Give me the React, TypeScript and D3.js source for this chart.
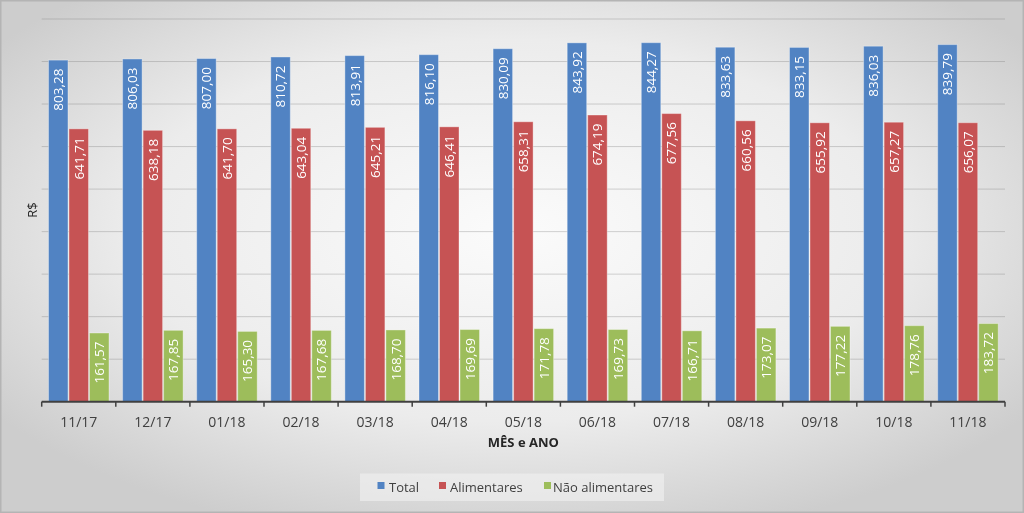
import React from "react";
import * as d3 from "d3";

// categorias (mês/ano)
const months = ["11/17", "12/17", "01/18", "02/18", "03/18", "04/18", "05/18", "06/18", "07/18", "08/18", "09/18", "10/18", "11/18"];

// séries
const seriesNames = ["Total", "Alimentares", "Não alimentares"];
const total = [803.28, 806.03, 807.0, 810.72, 813.91, 816.1, 830.09, 843.92, 844.27, 833.63, 833.15, 836.03, 839.79];
const alimentares = [641.71, 638.18, 641.7, 643.04, 645.21, 646.41, 658.31, 674.19, 677.56, 660.56, 655.92, 657.27, 656.07];
const naoAlimentares = [161.57, 167.85, 165.3, 167.68, 168.7, 169.69, 171.78, 169.73, 166.71, 173.07, 177.22, 178.76, 183.72];
const seriesValues = [total, alimentares, naoAlimentares];

const yTicks = [0, 100, 200, 300, 400, 500, 600, 700, 800, 900];

const colors = ["#5183c3", "#c65354", "#9dbd5b"];

const W = 1024;
const H = 513;
const FONT = "'Open Sans', 'Liberation Sans', sans-serif";

const fmt = (v: number) => v.toFixed(2).replace(".", ",");

export default function App() {
  const x0 = d3.scaleBand<string>().domain(months).range([41.7, 1005]).padding(0);
  const bw = x0.bandwidth();
  const x1 = d3
    .scaleBand<string>()
    .domain(seriesNames)
    .range([6.8, bw - 6.8])
    .paddingInner(0.05)
    .paddingOuter(0);
  const y = d3.scaleLinear().domain([0, 900]).range([401.7, 19]);

  const [xMin, xMax] = x0.range();
  const boundaries = [...months.map((m) => x0(m)!), xMax];

  const legendItems = [
    { name: seriesNames[0], sq: 377.5, tx: 389 },
    { name: seriesNames[1], sq: 439, tx: 450 },
    { name: seriesNames[2], sq: 544, tx: 553 },
  ];

  return (
    <div style={{ position: "fixed", left: 0, top: 0 }}>
      <svg width={W} height={H} style={{ display: "block" }} fontFamily={FONT}>
        <defs>
          <radialGradient id="bg" cx="50%" cy="45%" r="62%">
            <stop offset="0%" stopColor="#fbfbfb" />
            <stop offset="60%" stopColor="#ececec" />
            <stop offset="100%" stopColor="#cdcdcd" />
          </radialGradient>
        </defs>
        <rect x={0} y={0} width={W} height={H} fill="url(#bg)" />
        <rect x={0.5} y={0.5} width={W - 1} height={H - 1} fill="none" stroke="#b4b4b4" strokeWidth={2} />

        {/* linhas de grade */}
        {yTicks.slice(1).map((t) => (
          <line
            key={t}
            x1={xMin}
            x2={xMax}
            y1={y(t)}
            y2={y(t)}
            stroke="#6f6f6f"
            strokeOpacity={0.3}
            strokeWidth={1}
          />
        ))}

        {/* barras */}
        {months.map((m, i) => (
          <g key={m} transform={`translate(${x0(m)},0)`}>
            {seriesNames.map((s, k) => {
              const v = seriesValues[k][i];
              const bx = x1(s)!;
              const by = y(v);
              const cx = bx + x1.bandwidth() / 2;
              return (
                <g key={s}>
                  <rect
                    x={bx}
                    y={by}
                    width={x1.bandwidth()}
                    height={y(0) - by}
                    fill={colors[k]}
                    stroke="#ffffff"
                    strokeOpacity={0.35}
                    strokeWidth={1}
                  />
                  <text
                    transform={`translate(${cx},${by + 8.5}) rotate(-90)`}
                    textAnchor="end"
                    dy="0.36em"
                    fontSize={13.5}
                    fill="#ffffff"
                  >
                    {fmt(v)}
                  </text>
                </g>
              );
            })}
          </g>
        ))}

        {/* eixo x */}
        <line x1={xMin} x2={xMax} y1={y(0)} y2={y(0)} stroke="#404040" strokeWidth={2} />
        {boundaries.map((b, i) => (
          <line key={i} x1={b} x2={b} y1={y(0)} y2={y(0) + 5} stroke="#404040" strokeWidth={1.5} />
        ))}
        {months.map((m) => (
          <text key={m} x={x0(m)! + bw / 2} y={427} textAnchor="middle" fontSize={14} fill="#404040">
            {m}
          </text>
        ))}

        {/* títulos dos eixos */}
        <text x={(xMin + xMax) / 2} y={446.5} textAnchor="middle" fontSize={13} fontWeight="bold" fill="#262626">
          MÊS e ANO
        </text>
        <text transform="translate(32,210) rotate(-90)" textAnchor="middle" dy="0.35em" fontSize={13} fill="#262626">
          R$
        </text>

        {/* legenda */}
        <rect x={360} y={473.5} width={304} height={27.5} fill="#f2f2f2" fillOpacity={0.6} />
        {legendItems.map((it, k) => (
          <g key={it.name}>
            <rect x={it.sq} y={482} width={7} height={7} fill={colors[k]} />
            <text x={it.tx} y={492} fontSize={13} fill="#404040">
              {it.name}
            </text>
          </g>
        ))}
      </svg>
    </div>
  );
}
